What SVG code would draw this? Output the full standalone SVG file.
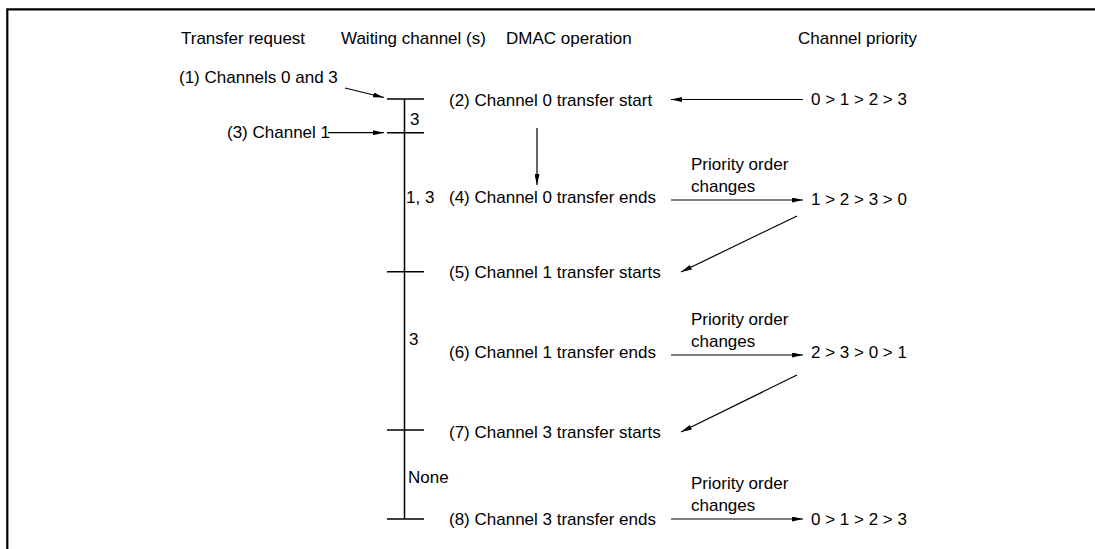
<svg xmlns="http://www.w3.org/2000/svg" width="1095" height="549" viewBox="0 0 1095 549">
<defs>
<style>
text{font-family:"Liberation Sans",Arial,sans-serif;font-size:17px;fill:#000}
.ln{stroke:#000;stroke-width:1.2;fill:none}
.tl{stroke:#000;stroke-width:1.5;fill:none}
.fr{stroke:#000;stroke-width:2.2;fill:none}
</style>
<marker id="ah" viewBox="0 0 11 5" refX="11" refY="2.5" markerWidth="11" markerHeight="5" markerUnits="userSpaceOnUse" orient="auto">
<path d="M0,0 L11,2.5 L0,5 z" fill="#000"/>
</marker>
</defs>
<rect width="1095" height="549" fill="#fff"/>
<path class="fr" d="M7.3,549 V9.3 H1095"/>
<g id="headers">
<text x="181" y="44">Transfer request</text>
<text x="341" y="44">Waiting channel (s)</text>
<text x="506" y="44">DMAC operation</text>
<text x="798" y="44">Channel priority</text>
</g>
<g id="timeline">
<path class="tl" d="M404.5,99 V519 M387,99 H424 M387,132.7 H424 M387,271.7 H424 M387,430 H424 M387,519 H424"/>
<text x="410" y="125">3</text>
<text x="406" y="203">1, 3</text>
<text x="409" y="345">3</text>
<text x="408" y="483">None</text>
</g>
<g id="requests">
<text x="179" y="83">(1) Channels 0 and 3</text>
<text x="227" y="138">(3) Channel 1</text>
</g>
<g id="ops">
<text x="449" y="106">(2) Channel 0 transfer start</text>
<text x="449" y="203">(4) Channel 0 transfer ends</text>
<text x="449" y="278">(5) Channel 1 transfer starts</text>
<text x="449" y="358">(6) Channel 1 transfer ends</text>
<text x="449" y="438">(7) Channel 3 transfer starts</text>
<text x="449" y="525">(8) Channel 3 transfer ends</text>
</g>
<g id="priorities">
<text x="811" y="105">0 &gt; 1 &gt; 2 &gt; 3</text>
<text x="811" y="205">1 &gt; 2 &gt; 3 &gt; 0</text>
<text x="811" y="358">2 &gt; 3 &gt; 0 &gt; 1</text>
<text x="811" y="525">0 &gt; 1 &gt; 2 &gt; 3</text>
</g>
<g id="labels">
<text x="691" y="170">Priority order</text>
<text x="691" y="192">changes</text>
<text x="691" y="325">Priority order</text>
<text x="691" y="347">changes</text>
<text x="691" y="489">Priority order</text>
<text x="691" y="511">changes</text>
</g>
<g id="connectors">
<line class="ln" x1="345" y1="88" x2="384" y2="97.5" marker-end="url(#ah)"/>
<line class="ln" x1="328" y1="132.7" x2="384" y2="132.7" marker-end="url(#ah)"/>
<line class="ln" x1="803" y1="99.5" x2="671" y2="99.5" marker-end="url(#ah)"/>
<line class="ln" x1="537" y1="128" x2="537" y2="185" marker-end="url(#ah)"/>
<line class="ln" x1="671" y1="200" x2="803" y2="200" marker-end="url(#ah)"/>
<line class="ln" x1="797" y1="216" x2="681" y2="272" marker-end="url(#ah)"/>
<line class="ln" x1="671" y1="355" x2="803" y2="355" marker-end="url(#ah)"/>
<line class="ln" x1="797" y1="375" x2="681" y2="432" marker-end="url(#ah)"/>
<line class="ln" x1="671" y1="519" x2="803" y2="519" marker-end="url(#ah)"/>
</g>
</svg>
